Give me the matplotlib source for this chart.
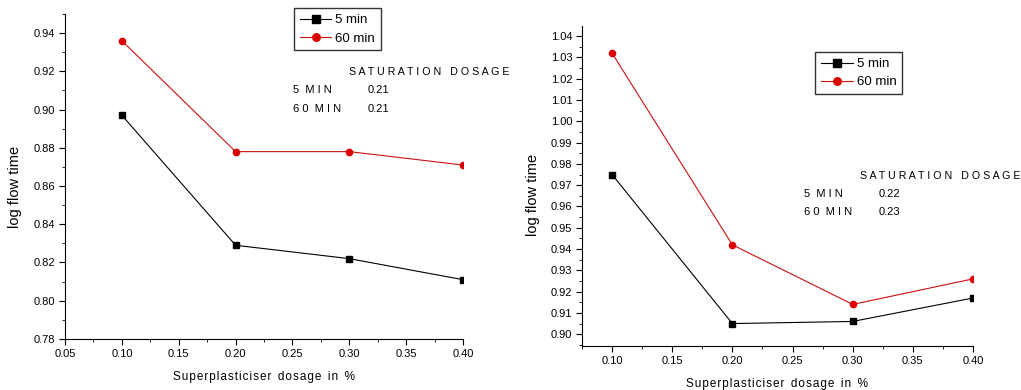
import matplotlib
matplotlib.use("Agg")
import matplotlib.pyplot as plt
from matplotlib.ticker import MultipleLocator, FormatStrFormatter

plt.rcParams.update({"font.family": ["Liberation Sans", "DejaVu Sans"],
                     "font.size": 8})

dosage = [0.10, 0.20, 0.30, 0.40]
left_5min = [0.897, 0.829, 0.822, 0.811]
left_60min = [0.936, 0.878, 0.878, 0.871]
right_5min = [0.975, 0.905, 0.906, 0.917]
right_60min = [1.032, 0.942, 0.914, 0.926]
series_labels = ["5 min", "60 min"]
left_sat = ["0.21", "0.21"]
right_sat = ["0.22", "0.23"]

HS = "\u200a"  # hair space, mimics the loose letter spacing of the original


def spaced(s):
    return HS.join(s)


fig = plt.figure(figsize=(10.21, 3.9), dpi=100)
ax1 = fig.add_axes([0.0637, 0.131, 0.3898, 0.833])
ax2 = fig.add_axes([0.570, 0.113, 0.383, 0.820])


def style(ax, xlim, ylim, ymaj, ymin, ylab_y):
    for s in ("top", "right"):
        ax.spines[s].set_visible(False)
    ax.set_xlim(*xlim)
    ax.set_ylim(*ylim)
    ax.xaxis.set_major_locator(MultipleLocator(0.05))
    ax.xaxis.set_minor_locator(MultipleLocator(0.025))
    ax.yaxis.set_major_locator(MultipleLocator(ymaj))
    ax.yaxis.set_minor_locator(MultipleLocator(ymin))
    ax.xaxis.set_major_formatter(FormatStrFormatter("%.2f"))
    ax.yaxis.set_major_formatter(FormatStrFormatter("%.2f"))
    ax.tick_params(which="major", length=4, width=0.8, labelsize=8, pad=3)
    ax.tick_params(which="minor", length=2, width=0.6)
    ax.set_xlabel(spaced("Superplasticiser") + "  " + spaced("dosage") + "  "
                  + spaced("in") + "  %", fontsize=8.5, labelpad=9)
    ax.set_ylabel("log flow time", fontsize=10.5)
    ax.yaxis.set_label_coords(-0.108, ylab_y)


def draw(ax, y5, y60, sat, leg_anchor, txt_pos):
    ax.plot(dosage, y5, "-s", color="black", lw=0.8, ms=4.5, label=series_labels[0])
    ax.plot(dosage, y60, "-o", color="#cc1010", lw=0.8, ms=4.5,
            mfc="#dd0000", mec="#dd0000", label=series_labels[1])
    leg = ax.legend(loc="upper left", bbox_to_anchor=leg_anchor, fontsize=9.5,
                    frameon=True, fancybox=False, handlelength=2.4,
                    borderpad=0.45, labelspacing=0.45, handletextpad=0.3,
                    markerscale=1.2, borderaxespad=0)
    leg.get_frame().set_edgecolor("black")
    leg.get_frame().set_linewidth(1.0)
    tx, ty, dx = txt_pos
    ax.text(tx + 0.142, ty, "S A T U R A T I O N   D O S A G E",
            transform=ax.transAxes, fontsize=7.7, va="center")
    ax.text(tx, ty - 0.057, "5  M I N", transform=ax.transAxes, fontsize=8,
            va="center")
    ax.text(tx + dx, ty - 0.057, sat[0], transform=ax.transAxes, fontsize=8,
            va="center")
    ax.text(tx, ty - 0.114, "6 0  M I N", transform=ax.transAxes, fontsize=8,
            va="center")
    ax.text(tx + dx, ty - 0.114, sat[1], transform=ax.transAxes, fontsize=8,
            va="center")


style(ax1, (0.05, 0.40), (0.78, 0.95), 0.02, 0.01, 0.468)
style(ax2, (0.075, 0.40), (0.8945, 1.0447), 0.01, 0.005, 0.472)
draw(ax1, left_5min, left_60min, left_sat, (0.575, 1.018), (0.572, 0.822, 0.188))
draw(ax2, right_5min, right_60min, right_sat, (0.596, 0.919), (0.568, 0.532, 0.19))

fig.savefig("out.png", dpi=100)
